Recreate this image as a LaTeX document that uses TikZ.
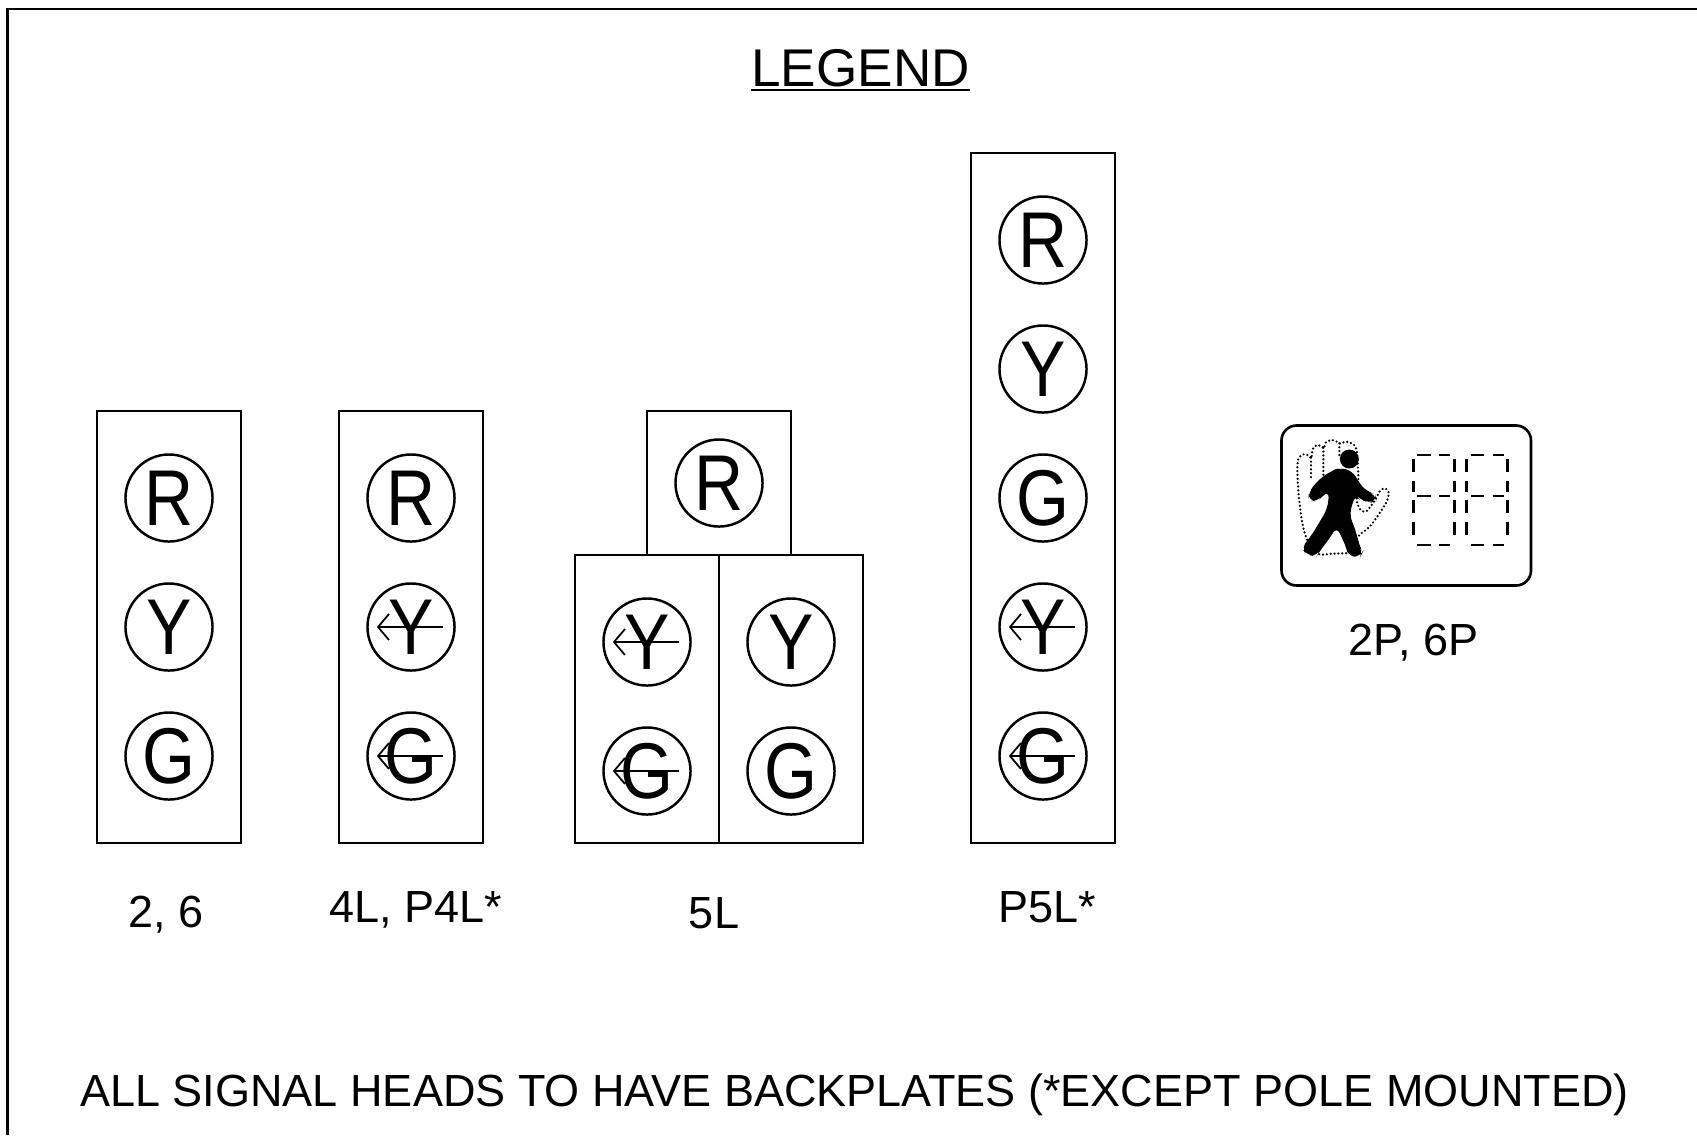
\documentclass[tikz,border=0pt]{standalone}
\usepackage{fontspec}
\setmainfont{Liberation Sans}
\newfontfamily\lampfont[FakeStretch=0.86]{Liberation Sans}
\tikzset{
  lamp/.style={circle,draw,line width=0.7pt,minimum size=0.87cm,inner sep=0pt,font=\lampfont\fontsize{22.5}{22}\selectfont},
  housing/.style={draw,line width=0.75pt},
  headlabel/.style={anchor=base,inner sep=0pt,font=\fontsize{12.8}{13}\selectfont},
  turnline/.style={line width=0.5pt},
  handdots/.style={line width=0.7pt,dash pattern=on 0pt off 1.1pt,line cap=round},
  segdash/.style={line width=0.8pt,dash pattern=on 3.8pt off 2.4pt},
}
\begin{document}
\begin{tikzpicture}[x=0.01cm,y=-0.01cm]
\useasboundingbox (0,0) rectangle (1697,1135);
% sheet border
\draw[line width=0.6pt] (1697,9) -- (7.5,9) -- (7.5,1135);
\node[anchor=base,inner sep=0pt,font=\fontsize{15.1}{15}\selectfont] (title) at (860.5,86.7) {LEGEND};
\draw[line width=0.65pt] ([yshift=-0.03cm]title.base west) -- ([yshift=-0.03cm]title.base east);

% 2, 6
\draw[housing] (97,411) rectangle (241,843);
\foreach \c/\y in {R/498,Y/627,G/756}{
    \node[lamp] (a\c) at (169,\y) {\c};
}
% 4L, P4L*
\draw[housing] (339,411) rectangle (483,843);
\foreach \c/\y in {R/498,Y/627,G/756}{
    \node[lamp] (b\c) at (411,\y) {\c};
}
% 5L
\draw[housing] (647,411) rectangle (791,555);
\draw[housing] (575,555) rectangle (719,843);
\draw[housing] (719,555) rectangle (863,843);
\node[lamp] (cR) at (719,483) {R};
\foreach \c/\y in {Y/642,G/771}{
    \node[lamp] (cl\c) at (647,\y) {\c};
    \node[lamp] (cr\c) at (791,\y) {\c};
}
% P5L*
\draw[housing] (971,153) rectangle (1115,843);
\foreach \n/\c/\y in {dR/R/240,dY/Y/369,dG/G/498,dYa/Y/627,dGa/G/756}{
    \node[lamp] (\n) at (1043,\y) {\c};
}
% left turn arrows
\foreach \n in {bY,bG,clY,clG,dYa,dGa}{
    \draw[turnline] (\n.center) ++(-33,0) -- ++(65,0);
    \draw[turnline] (\n.center) ++(-22,-13) -- ++(-11,13) -- ++(11,13);
}

% pedestrian head 2P, 6P
\draw[line width=0.75pt,rounded corners=0.15cm] (1281.5,425.5) rectangle (1531,585.5);
\begin{scope}[shift={(1290,435)},scale=1/3]
    \draw[handdots] plot[smooth] coordinates {(180,354) (130,356) (85,357) (55,322) (38,270) (27,190) (22,110) (25,72) (40,58) (58,62) (64,70) (68,42) (82,30) (97,36) (102,40) (108,22) (125,15) (145,22) (150,26) (168,20) (190,28) (200,45) (204,100) (205,150) (200,195) (212,225) (230,228) (255,195) (270,168) (285,160) (296,172) (290,200) (265,240) (238,276) (208,300) (193,325) (180,354)};
    \draw[handdots] (63,68) -- (63,130);
    \draw[handdots] (100,38) -- (100,150);
    \draw[handdots] (148,25) -- (148,60);
    \fill (178,72) circle (28.5);
    \fill[rounded corners=2pt] (150,98) -- (188,108) -- (210,148) -- (232,170) -- (256,178) -- (260,198) -- (238,204) -- (208,192) -- (196,178) -- (178,238) -- (198,290) -- (208,330) -- (218,352) -- (212,364) -- (176,366) -- (168,335) -- (148,292) -- (140,275) -- (120,308) -- (88,350) -- (80,364) -- (50,360) -- (34,338) -- (62,305) -- (88,262) -- (112,222) -- (118,168) -- (102,178) -- (84,198) -- (56,198) -- (56,170) -- (90,130) -- (128,106) -- cycle;
\end{scope}
% dashed countdown digits
\foreach \x in {1413.3,1466.7}{
    \draw[segdash] (\x+4,455) -- ++(33,0);
    \draw[segdash] (\x+4,496) -- ++(33,0);
    \draw[segdash] (\x+4,545) -- ++(33,0);
    \draw[segdash] (\x,459) -- ++(0,33);
    \draw[segdash] (\x+41,459) -- ++(0,33);
    \draw[segdash] (\x,500) -- ++(0,41);
    \draw[segdash] (\x+41,500) -- ++(0,41);
}

% labels
\node[headlabel] (l26) at (165.6,927) {2, 6};
\node[headlabel] (l4L) at (415.6,922) {4L, P4L*};
\node[headlabel] (l5L) at (714,928) {5L};
\node[headlabel] (lP5L) at (1047.7,922) {P5L*};
\node[headlabel] (lped) at (1413.5,655) {2P, 6P};
\node[anchor=base,inner sep=0pt,font=\fontsize{12.8}{13}\selectfont] (note) at (854.5,1106.7) {ALL SIGNAL HEADS TO HAVE BACKPLATES (*EXCEPT POLE MOUNTED)};
\end{tikzpicture}
\end{document}
